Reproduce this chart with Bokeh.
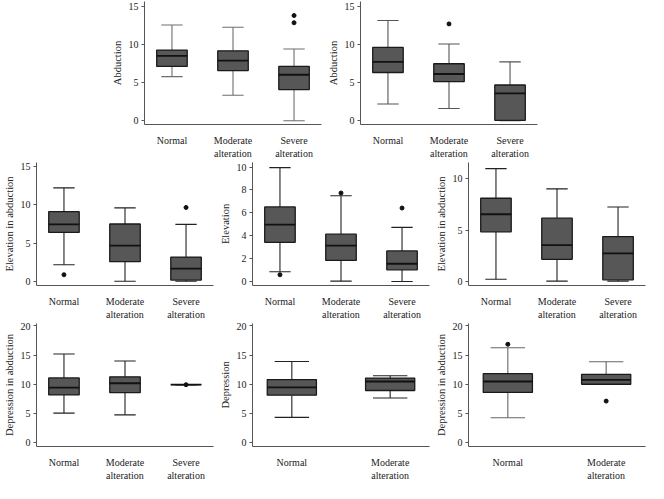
from bokeh.plotting import figure
from bokeh.models import ColumnDataSource, Range1d, FixedTicker
from bokeh.layouts import column, row, Spacer
from bokeh.embed import file_html
from bokeh.resources import INLINE

# ---------------- data ----------------
cats3 = ["Normal", "Moderate\nalteration", "Severe\nalteration"]
cats2 = ["Normal", "Moderate\nalteration"]

# Panel 1: Abduction
p1_low = [5.8, 3.35, 0.0]
p1_q1 = [7.15, 6.6, 4.1]
p1_med = [8.55, 7.9, 6.05]
p1_q3 = [9.3, 9.2, 7.15]
p1_high = [12.6, 12.3, 9.45]
p1_out_cat = [3, 3]
p1_out_val = [13.85, 12.9]

# Panel 2: Abduction
p2_low = [2.2, 1.6, 0.0]
p2_q1 = [6.35, 5.15, 0.05]
p2_med = [7.75, 6.15, 3.6]
p2_q3 = [9.65, 7.5, 4.7]
p2_high = [13.2, 10.1, 7.75]
p2_out_cat = [2]
p2_out_val = [12.75]

# Panel 3: Elevation in abduction
p3_low = [2.2, 0.05, 0.05]
p3_q1 = [6.4, 2.6, 0.2]
p3_med = [7.45, 4.7, 1.7]
p3_q3 = [9.1, 7.5, 3.2]
p3_high = [12.2, 9.6, 7.45]
p3_out_cat = [1, 3]
p3_out_val = [0.9, 9.65]

# Panel 4: Elevation
p4_low = [0.85, 0.03, 0.0]
p4_q1 = [3.42, 1.84, 1.02]
p4_med = [4.97, 3.13, 1.55]
p4_q3 = [6.52, 4.14, 2.67]
p4_high = [9.95, 7.49, 4.73]
p4_out_cat = [1, 2, 3]
p4_out_val = [0.59, 7.73, 6.42]

# Panel 5: Elevation in abduction
p5_low = [0.21, 0.03, 0.03]
p5_q1 = [4.84, 2.15, 0.15]
p5_med = [6.55, 3.54, 2.74]
p5_q3 = [8.11, 6.17, 4.37]
p5_high = [11.0, 9.03, 7.26]
p5_out_cat = []
p5_out_val = []

# Panel 6: Depression in abduction
p6_low = [5.1, 4.8, 9.95]
p6_q1 = [8.2, 8.6, 9.95]
p6_med = [9.45, 10.2, 9.95]
p6_q3 = [11.1, 11.3, 9.95]
p6_high = [15.2, 14.0, 9.95]
p6_out_cat = [3]
p6_out_val = [9.95]

# Panel 7: Depression
p7_low = [4.37, 7.68]
p7_q1 = [8.16, 8.96]
p7_med = [9.49, 10.5]
p7_q3 = [10.83, 11.09]
p7_high = [13.92, 11.47]
p7_out_cat = []
p7_out_val = []

# Panel 8: Depression in abduction
p8_low = [4.32, 10.03]
p8_q1 = [8.64, 10.03]
p8_med = [10.5, 10.77]
p8_q3 = [11.84, 11.73]
p8_high = [16.27, 13.87]
p8_out_cat = [1, 2]
p8_out_val = [16.85, 7.15]

FONT = "Liberation Serif"
BOX_FILL = "#575757"


def panel(ylabel, cats, low, q1, med, q3, high, out_cat, out_val,
          yr, yticks, whisker_color, width, height, bottom):
    n = len(cats)
    xs = list(range(1, n + 1))
    xr = (0.55, 3.45) if n == 3 else (0.6, 2.4)
    p = figure(width=width, height=height, output_backend="svg",
               toolbar_location=None,
               x_range=Range1d(*xr), y_range=Range1d(*yr),
               min_border_left=32, min_border_right=3,
               min_border_top=1, min_border_bottom=bottom)
    p.outline_line_color = None
    p.grid.visible = False
    bw = 0.5
    cw = 0.35
    src = ColumnDataSource(dict(
        x=xs, low=low, q1=q1, med=med, q3=q3, high=high,
        bl=[x - bw / 2 for x in xs], br=[x + bw / 2 for x in xs],
        cl=[x - cw / 2 for x in xs], cr=[x + cw / 2 for x in xs]))
    # whiskers
    for y0, y1 in (("q3", "high"), ("low", "q1")):
        p.segment(x0="x", x1="x", y0=y0, y1=y1, source=src,
                  line_color=whisker_color, line_width=1.1)
    for yy in ("high", "low"):
        p.segment(x0="cl", x1="cr", y0=yy, y1=yy, source=src,
                  line_color=whisker_color, line_width=1.1)
    # boxes
    p.vbar(x="x", width=bw, bottom="q1", top="q3", source=src,
           fill_color=BOX_FILL, line_color="#1a1a1a", line_width=1.3)
    # medians
    p.segment(x0="bl", x1="br", y0="med", y1="med", source=src,
              line_color="#111111", line_width=1.8)
    if out_cat:
        p.scatter(x=out_cat, y=out_val, size=4, color="#111111")

    # axes
    p.xaxis.ticker = FixedTicker(ticks=xs)
    p.xaxis.major_label_overrides = {x: c for x, c in zip(xs, cats)}
    p.xaxis.major_tick_line_color = None
    p.xaxis.minor_tick_line_color = None
    p.xaxis.major_label_standoff = 4
    p.yaxis.ticker = FixedTicker(ticks=yticks)
    p.yaxis.minor_tick_line_color = None
    p.yaxis.major_tick_in = 0
    p.yaxis.major_tick_out = 3
    p.yaxis.major_tick_line_color = "#555555"
    p.yaxis.major_label_standoff = 3
    p.yaxis.axis_label = ylabel
    p.yaxis.axis_label_standoff = 3
    for ax in (p.xaxis[0], p.yaxis[0]):
        ax.axis_line_color = "#555555"
        ax.major_label_text_font = FONT
        ax.major_label_text_font_size = "10px"
        ax.major_label_text_font_style = "normal"
        ax.major_label_text_color = "#222222"
        ax.axis_label_text_font = FONT
        ax.axis_label_text_font_size = "10.5px"
        ax.axis_label_text_font_style = "normal"
        ax.axis_label_text_color = "#222222"
    return p


W = 216
f1 = panel("Abduction", cats3, p1_low, p1_q1, p1_med, p1_q3, p1_high,
           p1_out_cat, p1_out_val, (-0.5, 15.7), [0, 5, 10, 15],
           "#6e6e6e", W, 161, 29)
f2 = panel("Abduction", cats3, p2_low, p2_q1, p2_med, p2_q3, p2_high,
           p2_out_cat, p2_out_val, (-0.5, 15.7), [0, 5, 10, 15],
           "#555555", W, 161, 29)
f3 = panel("Elevation in abduction", cats3, p3_low, p3_q1, p3_med, p3_q3,
           p3_high, p3_out_cat, p3_out_val, (-0.5, 15.5), [0, 5, 10, 15],
           "#222222", W, 161, 29)
f4 = panel("Elevation", cats3, p4_low, p4_q1, p4_med, p4_q3, p4_high,
           p4_out_cat, p4_out_val, (-0.35, 10.4), [0, 2, 4, 6, 8, 10],
           "#222222", W, 161, 29)
f5 = panel("Elevation in abduction", cats3, p5_low, p5_q1, p5_med, p5_q3,
           p5_high, p5_out_cat, p5_out_val, (-0.4, 11.6), [0, 5, 10],
           "#222222", W, 161, 29)
f6 = panel("Depression in abduction", cats3, p6_low, p6_q1, p6_med, p6_q3,
           p6_high, p6_out_cat, p6_out_val, (-0.6, 20.4), [0, 5, 10, 15, 20],
           "#222222", W, 161, 29)
f7 = panel("Depression", cats2, p7_low, p7_q1, p7_med, p7_q3, p7_high,
           p7_out_cat, p7_out_val, (-0.6, 20.4), [0, 5, 10, 15, 20],
           "#222222", W, 161, 29)
f8 = panel("Depression in abduction", cats2, p8_low, p8_q1, p8_med, p8_q3,
           p8_high, p8_out_cat, p8_out_val, (-0.6, 20.4), [0, 5, 10, 15, 20],
           "#666666", W, 161, 29)

layout = column(
    row(Spacer(width=108, height=161), f1, f2),
    row(f3, f4, f5),
    row(f6, f7, f8),
)

open("out.html", "w").write(file_html(layout, INLINE))
